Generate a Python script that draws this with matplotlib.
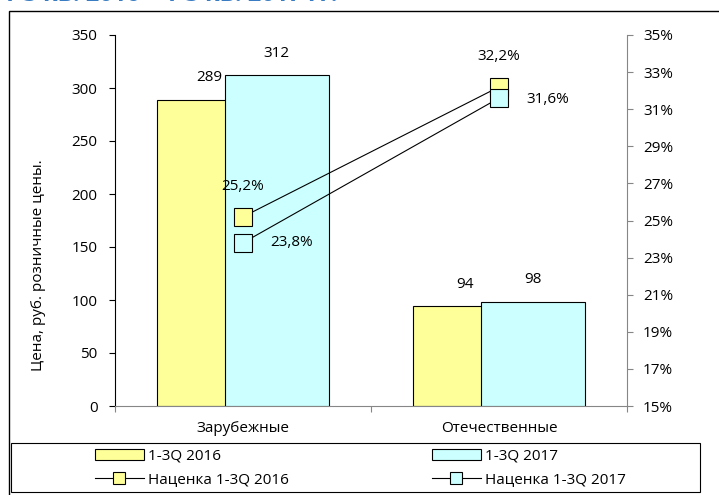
import matplotlib.pyplot as plt
from matplotlib.patches import Rectangle
from matplotlib.lines import Line2D
from matplotlib.ticker import FuncFormatter
import numpy as np

plt.rcParams['font.family'] = ['Open Sans', 'DejaVu Sans']

# data
categories = ['Зарубежные', 'Отечественные']
price_2016 = [289, 94]
price_2017 = [312, 98]
markup_2016 = [25.2, 32.2]
markup_2017 = [23.8, 31.6]
bar_labels = ['1-3Q 2016', '1-3Q 2017']
line_labels = ['Наценка 1-3Q 2016', 'Наценка 1-3Q 2017']
y_left_ticks = [0, 50, 100, 150, 200, 250, 300, 350]
y_right_ticks = [15, 17, 19, 21, 23, 25, 27, 29, 31, 33, 35]

yellow = '#FFFF99'
cyan = '#CCFFFF'
grey = '#868686'
fs = 11

W, H = 719, 495
fig = plt.figure(figsize=(W / 100, H / 100), dpi=100)
ax = fig.add_axes([115 / W, 1 - 406 / H, 512 / W, 371 / H])

x = np.arange(len(categories))
bw = 0.406
off = 0.131
b16 = ax.bar(x - off, price_2016, bw, color=yellow, edgecolor='black', linewidth=0.8, zorder=2)
b17 = ax.bar(x + off, price_2017, bw, color=cyan, edgecolor='black', linewidth=0.8, zorder=3)

for xi, v in zip(x - off, price_2016):
    ax.annotate(str(v), (xi, v), xytext=(0, 16), textcoords='offset points',
                ha='center', va='center', fontsize=fs)
for xi, v in zip(x + off, price_2017):
    ax.annotate(str(v), (xi, v), xytext=(0, 16), textcoords='offset points',
                ha='center', va='center', fontsize=fs)

ax.set_xlim(-0.5, 1.5)
ax.set_ylim(0, 350)
ax.set_yticks(y_left_ticks)
ax.set_xticks([-0.5, 0.5, 1.5])
ax.set_xticklabels([])
ax.set_xticks(x, minor=True)
ax.set_xticklabels(categories, minor=True)
ax.tick_params(axis='x', which='major', direction='out', length=4.5, color=grey)
ax.tick_params(axis='x', which='minor', length=0, pad=11, labelsize=fs)
ax.tick_params(axis='y', direction='out', length=4.5, pad=8, labelsize=fs, color='black')
for s in ['top', 'right']:
    ax.spines[s].set_visible(False)
ax.spines['bottom'].set_color(grey)
ax.spines['left'].set_color('black')
ax.spines['left'].set_linewidth(0.8)

fig.text(39 / W, 1 - 265 / H, 'Цена, руб. розничные цены.', rotation=90,
         ha='center', va='center', fontsize=fs)

# markup lines on right axis
ax2 = ax.twinx()
l16, = ax2.plot(x, markup_2016, color='black', linewidth=0.8, marker='s', markersize=13.5,
                markerfacecolor=yellow, markeredgecolor='black', markeredgewidth=0.8, zorder=4)
l17, = ax2.plot(x, markup_2017, color='black', linewidth=0.8, marker='s', markersize=13.5,
                markerfacecolor=cyan, markeredgecolor='black', markeredgewidth=0.8, zorder=5)
ax2.set_ylim(15, 35)
ax2.set_yticks(y_right_ticks)
ax2.yaxis.set_major_formatter(FuncFormatter(lambda v, p: f'{v:.0f}%'))
ax2.tick_params(axis='y', direction='out', length=4.5, pad=7, labelsize=fs, color=grey)
for s in ['top', 'left', 'bottom']:
    ax2.spines[s].set_visible(False)
ax2.spines['right'].set_color(grey)

def pct(v):
    return f'{v:.1f}%'.replace('.', ',')

ax2.annotate(pct(markup_2016[0]), (x[0], markup_2016[0]), xytext=(0, 22),
             textcoords='offset points', ha='center', va='center', fontsize=fs)
ax2.annotate(pct(markup_2017[0]), (x[0], markup_2017[0]), xytext=(35, 0),
             textcoords='offset points', ha='center', va='center', fontsize=fs)
ax2.annotate(pct(markup_2016[1]), (x[1], markup_2016[1]), xytext=(0, 22),
             textcoords='offset points', ha='center', va='center', fontsize=fs)
ax2.annotate(pct(markup_2017[1]), (x[1], markup_2017[1]), xytext=(35, -1),
             textcoords='offset points', ha='center', va='center', fontsize=fs)

# legend: frame + two columns
fig.patches.append(Rectangle((11 / W, 1 - 492 / H), 689 / W, 49 / H, transform=fig.transFigure,
                             fill=False, edgecolor='black', linewidth=0.8))
h_line16 = Line2D([], [], color='black', linewidth=0.8, marker='s', markersize=9,
                  markerfacecolor=yellow, markeredgecolor='black', markeredgewidth=0.8)
h_line17 = Line2D([], [], color='black', linewidth=0.8, marker='s', markersize=9,
                  markerfacecolor=cyan, markeredgecolor='black', markeredgewidth=0.8)
leg_kw = dict(frameon=False, borderpad=0, borderaxespad=0, handlelength=3.2,
              handletextpad=0.3, labelspacing=0.55, fontsize=fs, loc='center left')
fig.legend([b16, h_line16], [bar_labels[0], line_labels[0]],
           bbox_to_anchor=(95 / W, 1 - 468 / H), **leg_kw)
fig.legend([b17, h_line17], [bar_labels[1], line_labels[1]],
           bbox_to_anchor=(432 / W, 1 - 468 / H), **leg_kw)

# outer frame and clipped title
fig.patches.append(Rectangle((9 / W, -0.1), 1.2, 1 - 11 / H + 0.1, transform=fig.transFigure,
                             fill=False, edgecolor='black', linewidth=1.0))
fig.text(2 / W, 1 + 5 / H, '1-3 кв. 2016 – 1-3 кв. 2017 гг.', color='#3A7CC2',
         fontsize=17, fontweight='bold', ha='left', va='center')

fig.savefig('out.png', dpi=100)
